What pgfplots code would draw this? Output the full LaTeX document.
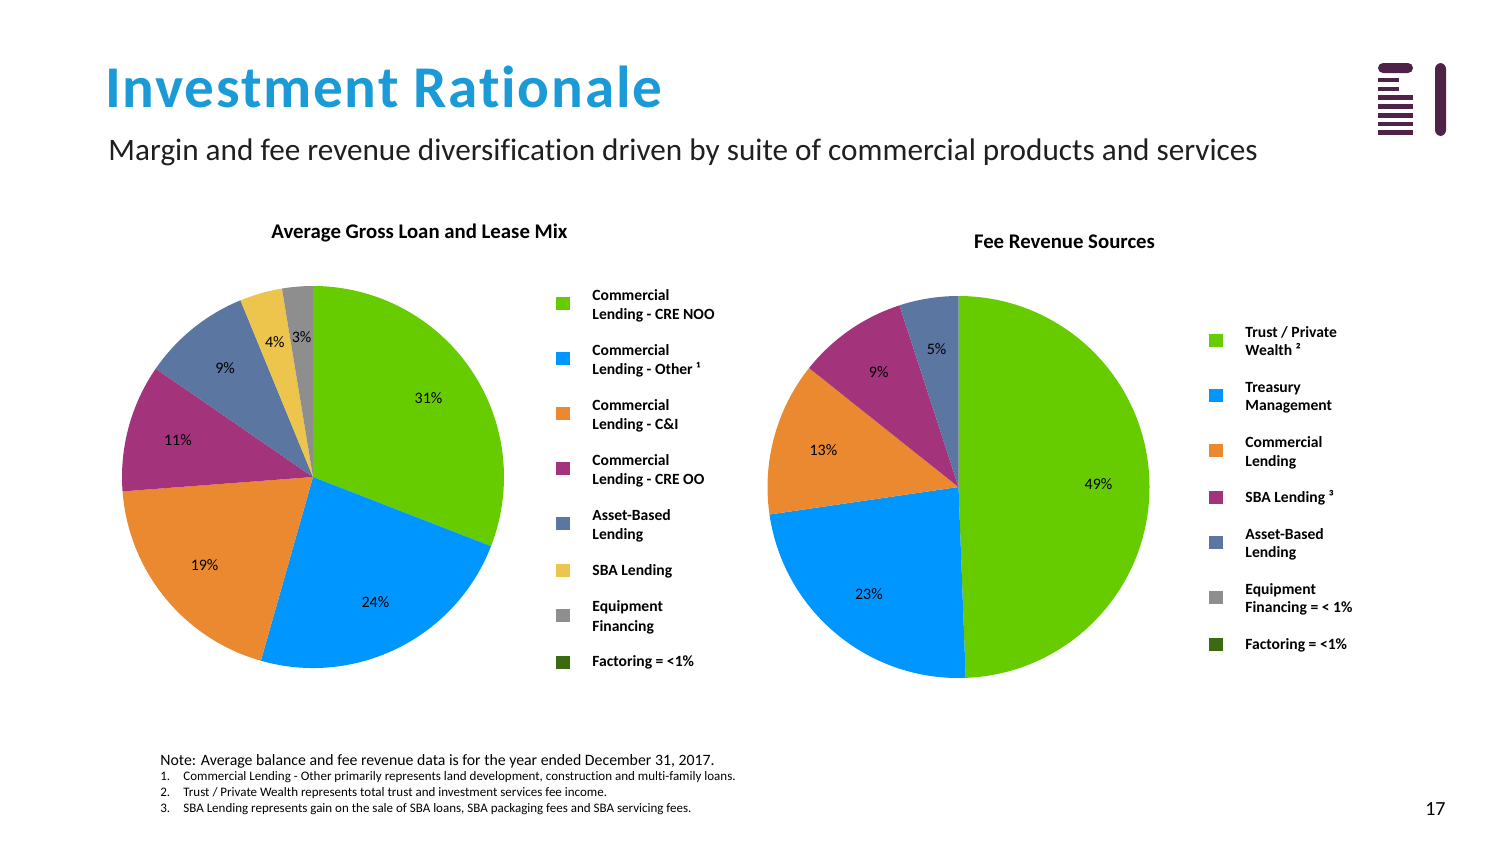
\documentclass[border=0pt]{standalone}
\usepackage{pgfplots}
\usepackage{pgfplotstable}
\pgfplotsset{compat=1.18}
\usepackage{fontspec}
\setmainfont{Carlito}[Ligatures=NoCommon]

\definecolor{cGreen}{HTML}{66CC00}
\definecolor{cBlue}{HTML}{0096FF}
\definecolor{cOrange}{HTML}{EA892F}
\definecolor{cPurple}{HTML}{A3337A}
\definecolor{cSlate}{HTML}{5B76A0}
\definecolor{cYellow}{HTML}{EEC54C}
\definecolor{cGrey}{HTML}{8E8E8E}
\definecolor{cDkGreen}{HTML}{3B6A10}
\definecolor{cTitle}{HTML}{1A9AD6}
\definecolor{cLogo}{HTML}{4F2347}

% Average Gross Loan and Lease Mix (percent of total)
\pgfplotstableread{
idx value label colour
0 30.9 31 cGreen
1 23.5 24 cBlue
2 19.4 19 cOrange
3 10.8 11 cPurple
4 9.2 9 cSlate
5 3.6 4 cYellow
6 2.6 3 cGrey
7 0.0 0 cDkGreen
}\loanmix

% Fee Revenue Sources (percent of total)
\pgfplotstableread{
idx value label colour
0 49.4 49 cGreen
1 23.3 23 cBlue
2 13.0 13 cOrange
3 9.3 9 cPurple
4 5.0 5 cSlate
}\feemix

% cumulative angles, clockwise from 12 o'clock
\newcommand\preparepie[3]{% #1 table, #2 prefix, #3 last row
  \xdef\cumangle{90}%
  \pgfplotsforeachungrouped \i in {0,...,#3}{%
    \pgfplotstablegetelem{\i}{value}\of#1%
    \pgfmathsetmacro\endang{\cumangle-3.6*\pgfplotsretval}%
    \pgfmathsetmacro\midang{(\cumangle+\endang)/2}%
    \expandafter\xdef\csname #2\i s\endcsname{\cumangle}%
    \expandafter\xdef\csname #2\i e\endcsname{\endang}%
    \expandafter\xdef\csname #2\i m\endcsname{\midang}%
    \pgfplotstablegetelem{\i}{label}\of#1%
    \expandafter\xdef\csname #2\i l\endcsname{\pgfplotsretval}%
    \pgfplotstablegetelem{\i}{colour}\of#1%
    \expandafter\xdef\csname #2\i c\endcsname{\pgfplotsretval}%
    \xdef\cumangle{\endang}%
  }%
}
\preparepie{\loanmix}{L}{6}
\preparepie{\feemix}{F}{4}

\newcommand\pctfont{\fontsize{8}{9}\selectfont}
\newcommand\slice[4]{% prefix, idx, cx, cy
  \pgfplotsextra{%
    \edef\sa{\csname #1#2s\endcsname}\edef\ea{\csname #1#2e\endcsname}%
    \edef\ma{\csname #1#2m\endcsname}\edef\cc{\csname #1#2c\endcsname}%
    \edef\ll{\csname #1#2l\endcsname}%
    \fill[\cc] (axis cs:#3,#4) -- ++(\sa:95.5pt) arc[start angle=\sa, end angle=\ea, radius=95.5pt] -- cycle;
    \path (axis cs:#3,#4) ++(\ma:70pt) node[font=\pctfont, inner sep=0pt] {\ll\%};
  }%
}

\newcommand\legfont{\fontsize{7.8}{8}\selectfont\bfseries}
\newcommand\legline[3]{\node[anchor=base west, inner sep=0pt, font=\legfont] at (axis cs:#1,#2) {#3};}
\newcommand\legsq[3]{\fill[#3] ([shift={(-3.5pt,-3.25pt)}]axis cs:#1,#2) rectangle ++(7pt,6.5pt);}
\newcommand\noteline[3]{\node[anchor=base west, inner sep=0pt, font=\fontsize{6.5}{7}\selectfont] at (axis cs:#1,#2) {#3};}

\begin{document}
\begin{tikzpicture}
\path[use as bounding box] (0,0) rectangle (752pt,423pt);
\begin{axis}[
  scale only axis, width=752pt, height=423pt,
  xmin=0, xmax=1504, ymin=0, ymax=846, y dir=reverse,
  axis lines=none, clip=false, ticks=none]

% pies
\pgfplotsinvokeforeach{0,...,6}{\slice{L}{#1}{313}{477}}
\pgfplotsinvokeforeach{0,...,4}{\slice{F}{#1}{958.5}{487}}

% titles
\node[anchor=base west, inner sep=0pt, text=cTitle, font=\fontsize{29.6}{32}\selectfont\bfseries\addfontfeatures{LetterSpace=3}] at (axis cs:105,107) {Investment Rationale};
\node[anchor=base west, inner sep=0pt, text=black!88, font=\fontsize{15.6}{17}\selectfont] at (axis cs:108,160) {Margin and fee revenue diversification driven by suite of commercial products and services};
\node[anchor=base, inner sep=0pt, font=\fontsize{10.4}{11}\selectfont\bfseries] at (axis cs:419.5,238.5) {Average Gross Loan and Lease Mix};
\node[anchor=base, inner sep=0pt, font=\fontsize{10.4}{11}\selectfont\bfseries] at (axis cs:1064.5,248.5) {Fee Revenue Sources};

% left legend
\legsq{563}{303}{cGreen}   \legline{592}{300.7}{Commercial}\legline{592}{319}{Lending - CRE NOO}
\legsq{563}{358}{cBlue}    \legline{592}{355.7}{Commercial}\legline{592}{374}{Lending - Other ¹}
\legsq{563}{413}{cOrange}  \legline{592}{410.7}{Commercial}\legline{592}{429}{Lending - C\&I}
\legsq{563}{468}{cPurple}  \legline{592}{465.7}{Commercial}\legline{592}{484}{Lending - CRE OO}
\legsq{563}{523}{cSlate}   \legline{592}{520.7}{Asset-Based}\legline{592}{539}{Lending}
\legsq{563}{570}{cYellow}  \legline{592}{575}{SBA Lending}
\legsq{563}{615}{cGrey}    \legline{592}{611.7}{Equipment}\legline{592}{631}{Financing}
\legsq{563}{662}{cDkGreen} \legline{592}{666.7}{Factoring = <1\%}

% right legend
\legsq{1216}{340}{cGreen}   \legline{1245}{337.3}{Trust / Private}\legline{1245}{355.7}{Wealth ²}
\legsq{1216}{395}{cBlue}    \legline{1245}{392.7}{Treasury}\legline{1245}{410.7}{Management}
\legsq{1216}{450}{cOrange}  \legline{1245}{447.7}{Commercial}\legline{1245}{466}{Lending}
\legsq{1216}{497}{cPurple}  \legline{1245}{502.7}{SBA Lending ³}
\legsq{1216}{542}{cSlate}   \legline{1245}{539.3}{Asset-Based}\legline{1245}{557.7}{Lending}
\legsq{1216}{597}{cGrey}    \legline{1245}{594.3}{Equipment}\legline{1245}{612.7}{Financing = < 1\%}
\legsq{1216}{644}{cDkGreen} \legline{1245}{649.3}{Factoring = <1\%}

% notes
\node[anchor=base west, inner sep=0pt, font=\fontsize{7.9}{9}\selectfont] at (axis cs:160,765) {Note: Average balance and fee revenue data is for the year ended December 31, 2017.};
\noteline{160}{780}{1.}\noteline{183}{780}{Commercial Lending - Other primarily represents land development, construction and multi-family loans.}
\noteline{160}{796}{2.}\noteline{183}{796}{Trust / Private Wealth represents total trust and investment services fee income.}
\noteline{160}{812}{3.}\noteline{183}{812}{SBA Lending represents gain on the sale of SBA loans, SBA packaging fees and SBA servicing fees.}
\node[anchor=base east, inner sep=0pt, font=\fontsize{10}{11}\selectfont] at (axis cs:1446,815) {17};

% logo
\fill[cLogo, rounded corners=2.5pt] (axis cs:1378,63) rectangle (axis cs:1413,73);
\fill[cLogo] (axis cs:1378,78) rectangle (axis cs:1399,82);
\fill[cLogo] (axis cs:1378,87) rectangle (axis cs:1399,91);
\fill[cLogo] (axis cs:1378,95) rectangle (axis cs:1413,100);
\fill[cLogo] (axis cs:1378,104) rectangle (axis cs:1413,108.5);
\fill[cLogo] (axis cs:1378,113) rectangle (axis cs:1413,117.5);
\fill[cLogo] (axis cs:1378,121.5) rectangle (axis cs:1413,126);
\fill[cLogo] (axis cs:1378,130) rectangle (axis cs:1413,135);
\fill[cLogo, rounded corners=3pt] (axis cs:1435,63) -- (axis cs:1446,63) -- (axis cs:1446,136) -- (axis cs:1435,136) -- cycle;
\end{axis}
\end{tikzpicture}
\end{document}
